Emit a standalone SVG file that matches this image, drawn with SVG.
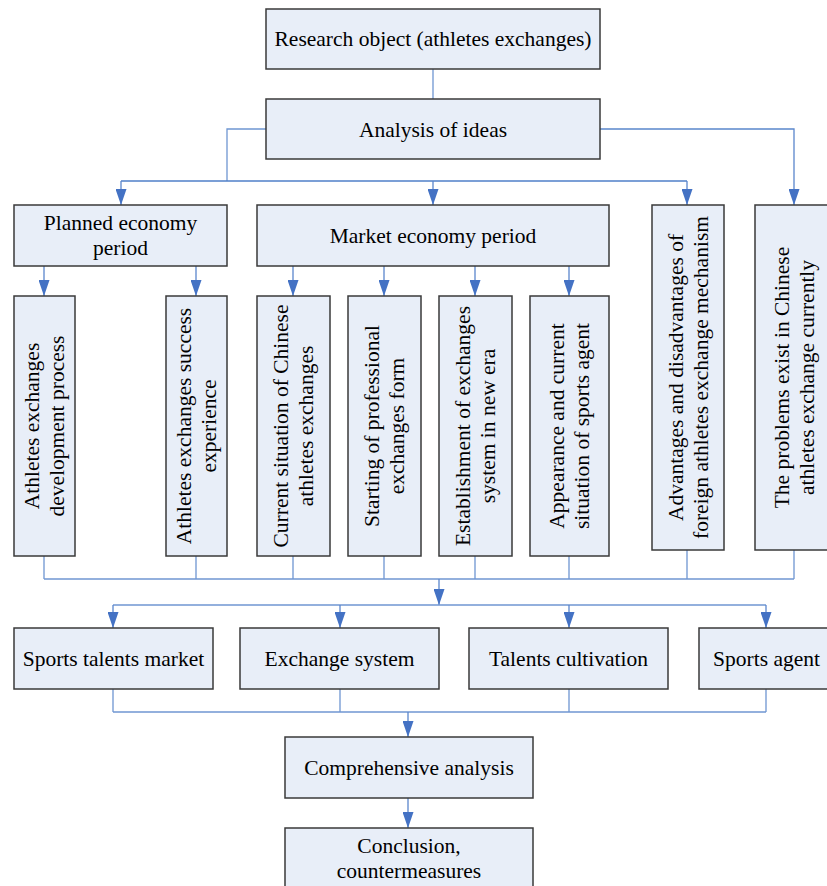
<svg xmlns="http://www.w3.org/2000/svg" width="827" height="886" viewBox="0 0 827 886">
<style>
.box{fill:#E8EEF8;stroke:#3A3A3A;stroke-width:1.5}
.t{font-family:"Liberation Serif","Times New Roman",serif;font-size:21.5px;fill:#000;text-anchor:middle}
.c{fill:none;stroke:#6F96D2;stroke-width:1.3}
.a{fill:none;stroke:#5A86CC;stroke-width:1.3;marker-end:url(#arr)}
</style>
<defs>
<marker id="arr" viewBox="0 0 16 11" refX="16" refY="5.5" markerWidth="16" markerHeight="11" markerUnits="userSpaceOnUse" orient="auto">
<path d="M0,0 L16,5.5 L0,11 z" fill="#4472C4"/>
</marker>
</defs>
<g id="connectors">
<path class="c" d="M433,69 V99"/>
<path class="c" d="M266,129 H227 V181"/>
<path class="c" d="M121,181 H687" style="stroke:#4F7FC8"/>
<path class="a" d="M121,181 V205"/>
<path class="a" d="M433,181 V205"/>
<path class="a" d="M687,181 V205"/>
<path class="a" d="M600,129 H794 V205"/>
<path class="a" d="M44,266 V296"/>
<path class="a" d="M196,266 V296"/>
<path class="a" d="M293,266 V296"/>
<path class="a" d="M384,266 V296"/>
<path class="a" d="M475,266 V296"/>
<path class="a" d="M569,266 V296"/>
<path class="c" d="M44,556 V579 M196,556 V579 M293,556 V579 M384,556 V579 M475,556 V579 M569,556 V579 M687,550 V579 M794,550 V579"/>
<path class="c" d="M44,579 H794"/>
<path class="a" d="M439,579 V605"/>
<path class="c" d="M113,605 H766"/>
<path class="a" d="M113,605 V628"/>
<path class="a" d="M340,605 V628"/>
<path class="a" d="M569,605 V628"/>
<path class="a" d="M766,605 V628"/>
<path class="c" d="M113,689 V712 M340,689 V712 M569,689 V712 M766,689 V712"/>
<path class="c" d="M113,712 H766"/>
<path class="a" d="M408,712 V737"/>
<path class="a" d="M408,798 V828"/>
</g>
<g id="n-research"><rect class="box" x="266" y="9" width="334" height="60"/><text class="t" x="433" y="46">Research object (athletes exchanges)</text></g>
<g id="n-analysis"><rect class="box" x="266" y="99" width="334" height="60"/><text class="t" x="433" y="136.5">Analysis of ideas</text></g>
<g id="n-planned"><rect class="box" x="14" y="205" width="213" height="61"/><text class="t" x="120.5" y="229.5">Planned economy</text><text class="t" x="120.5" y="254.5">period</text></g>
<g id="n-market"><rect class="box" x="257" y="205" width="352" height="61"/><text class="t" x="433" y="242.5">Market economy period</text></g>
<g id="n-adv"><rect class="box" x="652" y="205" width="72" height="345"/><text class="t" transform="translate(688,377.5) rotate(-90)"><tspan x="0" y="-5.5">Advantages and disadvantages of</tspan><tspan x="0" y="19.5">foreign athletes exchange mechanism</tspan></text></g>
<g id="n-problems"><rect class="box" x="755" y="205" width="78" height="345"/><text class="t" transform="translate(794,377.5) rotate(-90)"><tspan x="0" y="-5.5">The problems exist in Chinese</tspan><tspan x="0" y="19.5">athletes exchange currently</tspan></text></g>
<g id="n-v1"><rect class="box" x="14" y="296" width="61" height="260"/><text class="t" transform="translate(44.5,426) rotate(-90)"><tspan x="0" y="-5.5">Athletes exchanges</tspan><tspan x="0" y="19.5">development process</tspan></text></g>
<g id="n-v2"><rect class="box" x="166" y="296" width="61" height="260"/><text class="t" transform="translate(196.5,426) rotate(-90)"><tspan x="0" y="-5.5">Athletes exchanges success</tspan><tspan x="0" y="19.5">experience</tspan></text></g>
<g id="n-v3"><rect class="box" x="257" y="296" width="73" height="260"/><text class="t" transform="translate(293.5,426) rotate(-90)"><tspan x="0" y="-5.5">Current situation of Chinese</tspan><tspan x="0" y="19.5">athletes exchanges</tspan></text></g>
<g id="n-v4"><rect class="box" x="348" y="296" width="73" height="260"/><text class="t" transform="translate(384.5,426) rotate(-90)"><tspan x="0" y="-5.5">Starting of professional</tspan><tspan x="0" y="19.5">exchanges form</tspan></text></g>
<g id="n-v5"><rect class="box" x="439" y="296" width="73" height="260"/><text class="t" transform="translate(475.5,426) rotate(-90)"><tspan x="0" y="-5.5">Establishment of exchanges</tspan><tspan x="0" y="19.5">system in new era</tspan></text></g>
<g id="n-v6"><rect class="box" x="530" y="296" width="79" height="260"/><text class="t" transform="translate(569.5,426) rotate(-90)"><tspan x="0" y="-5.5">Appearance and current</tspan><tspan x="0" y="19.5">situation of sports agent</tspan></text></g>
<g id="n-market2"><rect class="box" x="14" y="628" width="199" height="61"/><text class="t" x="113.5" y="665.5">Sports talents market</text></g>
<g id="n-exchange"><rect class="box" x="240" y="628" width="199" height="61"/><text class="t" x="339.5" y="665.5">Exchange system</text></g>
<g id="n-talents"><rect class="box" x="469" y="628" width="199" height="61"/><text class="t" x="568.5" y="665.5">Talents cultivation</text></g>
<g id="n-agent"><rect class="box" x="699" y="628" width="135" height="61"/><text class="t" x="766.5" y="665.5">Sports agent</text></g>
<g id="n-comp"><rect class="box" x="285" y="737" width="248" height="61"/><text class="t" x="409" y="774.5">Comprehensive analysis</text></g>
<g id="n-concl"><rect class="box" x="285" y="828" width="248" height="70"/><text class="t" x="409" y="853">Conclusion,</text><text class="t" x="409" y="878">countermeasures</text></g>
</svg>
